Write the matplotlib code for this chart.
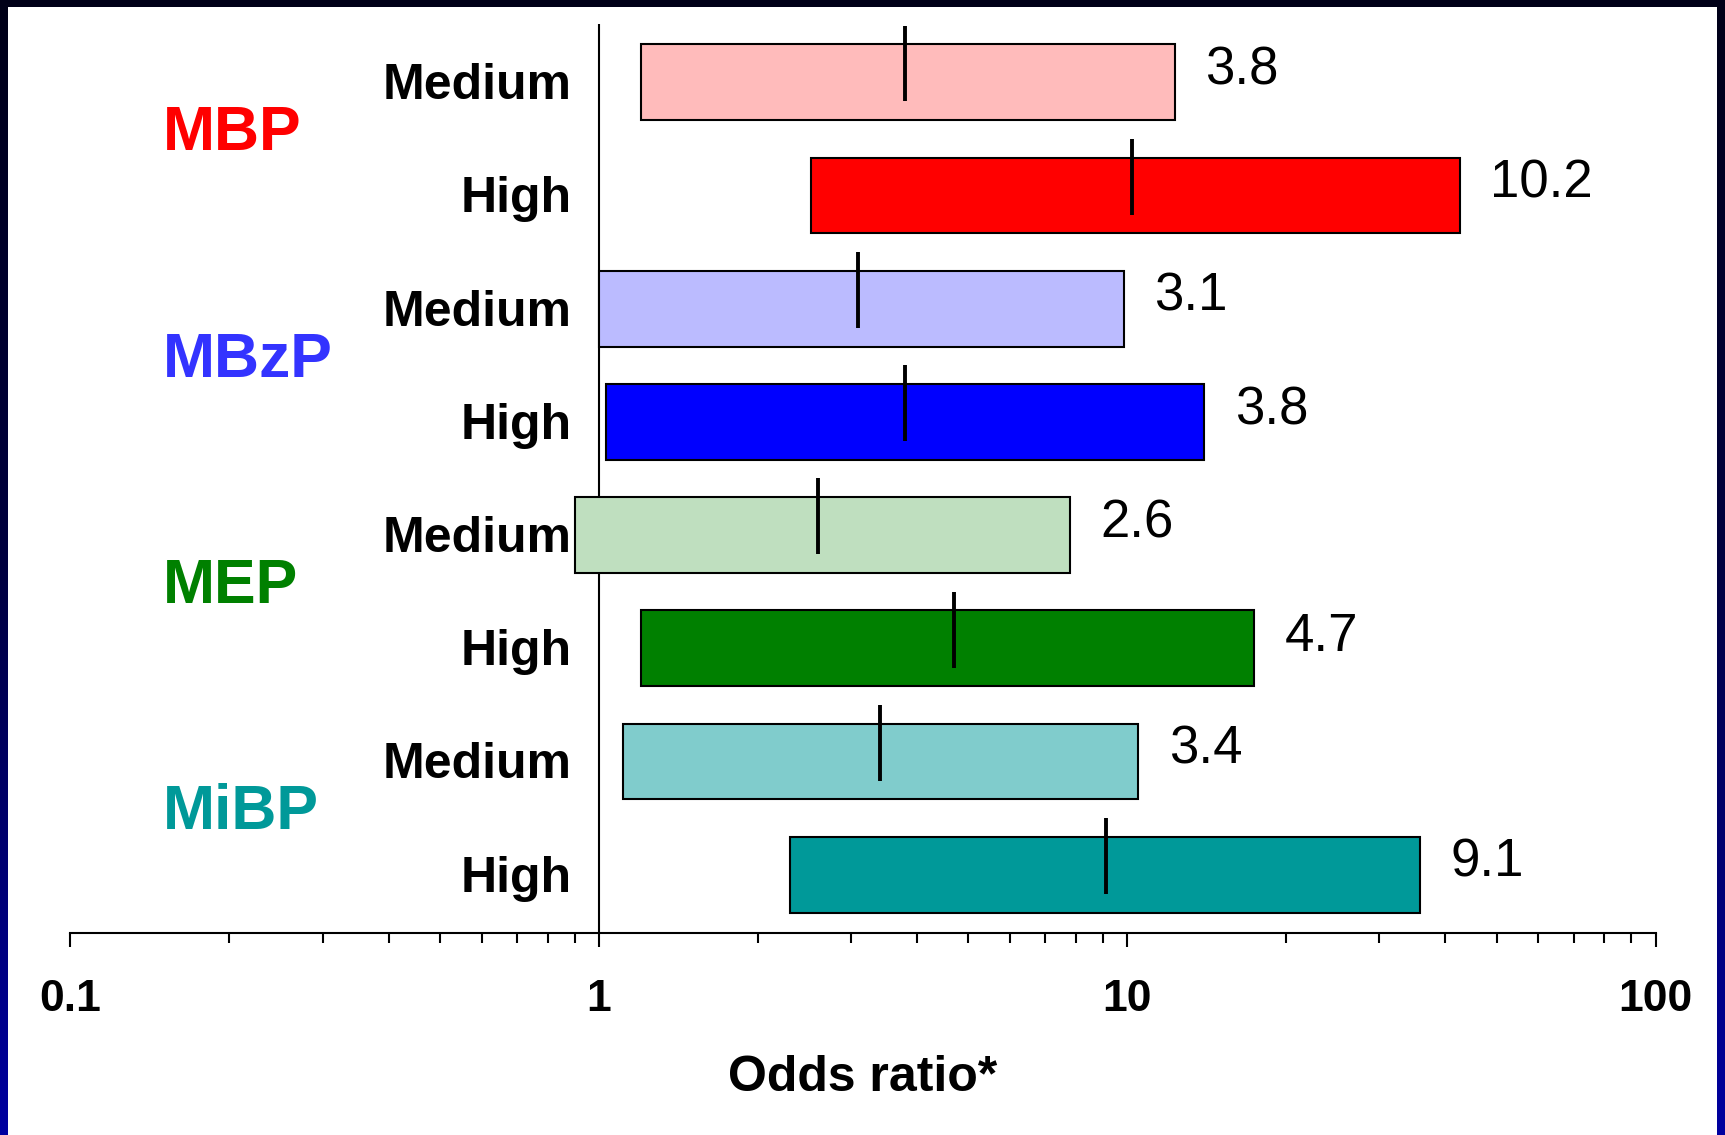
import numpy as np
import matplotlib.pyplot as plt
from matplotlib.patches import Rectangle
from matplotlib.colors import LinearSegmentedColormap
from matplotlib.ticker import FixedLocator, NullFormatter

plt.rcParams['font.family'] = ['Liberation Sans', 'DejaVu Sans']

# ----
# Data: odds ratios with 95% CI, by metabolite and exposure level
# ----
groups = ['MBP', 'MBzP', 'MEP', 'MiBP']
levels = ['Medium', 'High']
odds = [3.8, 10.2, 3.1, 3.8, 2.6, 4.7, 3.4, 9.1]
ci_low = [1.20, 2.52, 1.00, 1.03, 0.90, 1.20, 1.11, 2.30]
ci_high = [12.3, 42.6, 9.85, 14.0, 7.8, 17.4, 10.5, 35.8]

bar_colors = ['#FFBBBB', '#FF0000', '#BBBBFF', '#0000FF',
              '#BFDFBF', '#008000', '#80CCCC', '#009999']
group_colors = ['#FF0000', '#3333FF', '#008000', '#009999']

xticks = [0.1, 1, 10, 100]
xtick_labels = ['0.1', '1', '10', '100']

# ----
# Figure with a dark blue frame
# ----
fig = plt.figure(figsize=(17.25, 11.35), dpi=100)
bg = fig.add_axes([0, 0, 1, 1], zorder=-10)
frame = LinearSegmentedColormap.from_list('frame', ['#000018', '#000040', '#0000A0'])
bg.imshow(np.linspace(0, 1, 256).reshape(-1, 1), aspect='auto', cmap=frame,
          extent=[0, 1, 0, 1], origin='upper')
bg.add_patch(Rectangle((8 / 1725, 0), (1717 - 8) / 1725, (1135 - 7) / 1135,
                       facecolor='white', edgecolor='none'))
bg.set_xlim(0, 1)
bg.set_ylim(0, 1)
bg.axis('off')

ax = fig.add_axes([0.0408, 0.178, 0.9190, 0.8009])
ax.set_facecolor('none')

rows = np.arange(len(odds))
widths = np.array(ci_high) - np.array(ci_low)

# ----
# Bars (CI range) and point estimate marks
# ----
ax.barh(rows, widths, left=ci_low, height=0.67, color=bar_colors,
        edgecolor='black', linewidth=1.5, zorder=2)
ax.vlines(odds, rows - 0.5, rows + 0.17, color='black', linewidth=2.8, zorder=3)
ax.axvline(1, color='black', linewidth=1.5, zorder=1)

# ----
# Labels
# ----
for i, (v, hi) in enumerate(zip(odds, ci_high)):
    ax.text(0.89, i + 0.15, levels[i % 2], ha='right', va='baseline',
            fontsize=36, fontweight='bold')
    ax.annotate(f'{v}', xy=(hi, i + 0.02), xytext=(22, 0),
                textcoords='offset points', va='baseline', fontsize=38)

for g, (name, c) in enumerate(zip(groups, group_colors)):
    ax.text(0.1496, 2 * g + 0.6, name, color=c, ha='left', va='baseline',
            fontsize=45, fontweight='bold')

# ----
# Axes decorations
# ----
ax.set_xscale('log')
ax.set_xlim(0.1, 100)
ax.set_ylim(7.515, -0.515)
ax.xaxis.set_major_locator(FixedLocator(xticks))
ax.set_xticklabels(xtick_labels, fontsize=32, fontweight='bold')
minor = [m * 10.0 ** e for e in (-1, 0, 1) for m in range(2, 10)]
ax.xaxis.set_minor_locator(FixedLocator(minor))
ax.xaxis.set_minor_formatter(NullFormatter())
ax.tick_params(axis='x', which='major', length=10, width=1.5, pad=23)
ax.tick_params(axis='x', which='minor', length=7, width=1.5)
ax.set_yticks([])
for side in ['left', 'right', 'top']:
    ax.spines[side].set_visible(False)
ax.spines['bottom'].set_linewidth(1.5)
ax.set_xlabel('Odds ratio*', fontsize=36, fontweight='bold', labelpad=25)

fig.savefig('out.png', dpi=100)
plt.close(fig)
